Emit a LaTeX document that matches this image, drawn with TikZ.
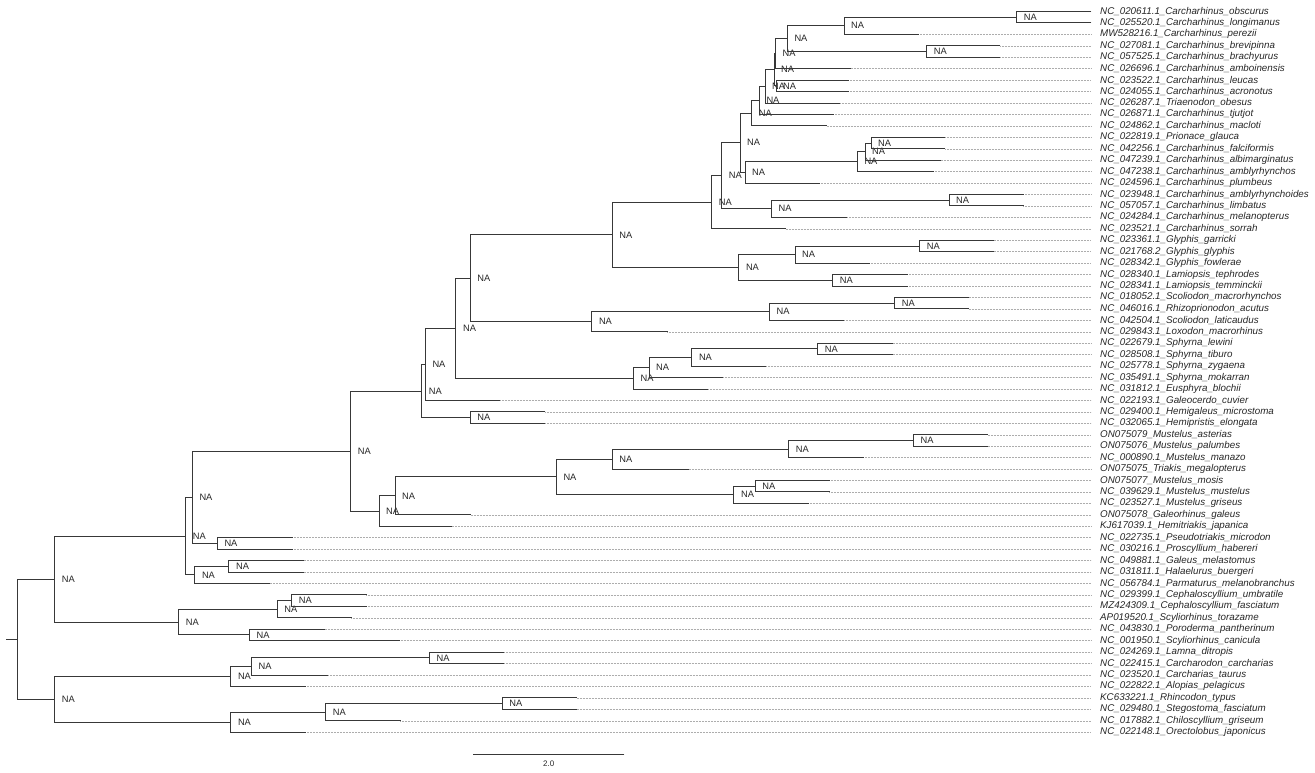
\documentclass[tikz,border=0pt]{standalone}
\usepackage{fontspec}
\setmainfont{Liberation Sans}
\begin{document}
\begin{tikzpicture}[x=1pt, y=-11.44pt,
  edge/.style={draw=black!78, line width=0.9pt, line cap=rect},
  dotline/.style={draw=black!32, line width=0.45pt, dash pattern=on 0.6pt off 0.9pt},
  nalab/.style={anchor=west, inner sep=0pt, xshift=7pt, text=black!85, font=\fontsize{9.3}{10}\selectfont},
  tiplab/.style={anchor=west, inner sep=0pt, inner xsep=9pt, text=black!85, font=\fontsize{9.8}{10}\selectfont\itshape},
  barlab/.style={inner sep=0pt, text=black!85, font=\fontsize{8}{9}\selectfont}]
\path[use as bounding box] (0pt,0pt) rectangle (1315pt,-772pt);
% tips
\foreach \i/\x/\lab in {
1/1091/{NC\_020611.1\_Carcharhinus\_obscurus},
2/1091/{NC\_025520.1\_Carcharhinus\_longimanus},
3/918.3/{MW528216.1\_Carcharhinus\_perezii},
4/1000/{NC\_027081.1\_Carcharhinus\_brevipinna},
5/1000/{NC\_057525.1\_Carcharhinus\_brachyurus},
6/850.7/{NC\_026696.1\_Carcharhinus\_amboinensis},
7/848.3/{NC\_023522.1\_Carcharhinus\_leucas},
8/848.3/{NC\_024055.1\_Carcharhinus\_acronotus},
9/840/{NC\_026287.1\_Triaenodon\_obesus},
10/833.3/{NC\_026871.1\_Carcharhinus\_tjutjot},
11/826.7/{NC\_024862.1\_Carcharhinus\_macloti},
12/945/{NC\_022819.1\_Prionace\_glauca},
13/945/{NC\_042256.1\_Carcharhinus\_falciformis},
14/940.7/{NC\_047239.1\_Carcharhinus\_albimarginatus},
15/933.3/{NC\_047238.1\_Carcharhinus\_amblyrhynchos},
16/819.3/{NC\_024596.1\_Carcharhinus\_plumbeus},
17/1023.3/{NC\_023948.1\_Carcharhinus\_amblyrhynchoides},
18/1023.3/{NC\_057057.1\_Carcharhinus\_limbatus},
19/847/{NC\_024284.1\_Carcharhinus\_melanopterus},
20/785.7/{NC\_023521.1\_Carcharhinus\_sorrah},
21/993.9/{NC\_023361.1\_Glyphis\_garricki},
22/993.9/{NC\_021768.2\_Glyphis\_glyphis},
23/869.4/{NC\_028342.1\_Glyphis\_fowlerae},
24/907.3/{NC\_028340.1\_Lamiopsis\_tephrodes},
25/907.3/{NC\_028341.1\_Lamiopsis\_temminckii},
26/968.6/{NC\_018052.1\_Scoliodon\_macrorhynchos},
27/968.6/{NC\_046016.1\_Rhizoprionodon\_acutus},
28/844/{NC\_042504.1\_Scoliodon\_laticaudus},
29/667.3/{NC\_029843.1\_Loxodon\_macrorhinus},
30/892.7/{NC\_022679.1\_Sphyrna\_lewini},
31/892.7/{NC\_028508.1\_Sphyrna\_tiburo},
32/766/{NC\_025778.1\_Sphyrna\_zygaena},
33/723/{NC\_035491.1\_Sphyrna\_mokarran},
34/708/{NC\_031812.1\_Eusphyra\_blochii},
35/500/{NC\_022193.1\_Galeocerdo\_cuvier},
36/545/{NC\_029400.1\_Hemigaleus\_microstoma},
37/545/{NC\_032065.1\_Hemipristis\_elongata},
38/987.8/{ON075079\_Mustelus\_asterias},
39/987.8/{ON075076\_Mustelus\_palumbes},
40/863.3/{NC\_000890.1\_Mustelus\_manazo},
41/688.6/{ON075075\_Triakis\_megalopterus},
42/829.4/{ON075077\_Mustelus\_mosis},
43/829.4/{NC\_039629.1\_Mustelus\_mustelus},
44/808.2/{NC\_023527.1\_Mustelus\_griseus},
45/470.6/{ON075078\_Galeorhinus\_galeus},
46/451.8/{KJ617039.1\_Hemitriakis\_japanica},
47/292.3/{NC\_022735.1\_Pseudotriakis\_microdon},
48/292.3/{NC\_030216.1\_Proscyllium\_habereri},
49/303.5/{NC\_049881.1\_Galeus\_melastomus},
50/303.5/{NC\_031811.1\_Halaelurus\_buergeri},
51/269.8/{NC\_056784.1\_Parmaturus\_melanobranchus},
52/366.2/{NC\_029399.1\_Cephaloscyllium\_umbratile},
53/366.2/{MZ424309.1\_Cephaloscyllium\_fasciatum},
54/351.3/{AP019520.1\_Scyliorhinus\_torazame},
55/324.5/{NC\_043830.1\_Poroderma\_pantherinum},
56/399.2/{NC\_001950.1\_Scyliorhinus\_canicula},
57/504/{NC\_024269.1\_Lamna\_ditropis},
58/504/{NC\_022415.1\_Carcharodon\_carcharias},
59/328/{NC\_023520.1\_Carcharias\_taurus},
60/305.4/{NC\_022822.1\_Alopias\_pelagicus},
61/576.7/{KC633221.1\_Rhincodon\_typus},
62/576.7/{NC\_029480.1\_Stegostoma\_fasciatum},
63/400.3/{NC\_017882.1\_Chiloscyllium\_griseum},
64/305.4/{NC\_022148.1\_Orectolobus\_japonicus}}{
  \coordinate (t\i) at (\x,\i);
  \node[tiplab] (l\i) at (1091,\i) {\lab};
}
% internal nodes
\foreach \n/\x/\y in {
P1/1016.7/1.5, P2/844/2.25, P3/926.7/4.5, P4/787.3/3.375, P5/775.5/4.6875,
Q/776/7.5, P6/774/6.09375, P7/765/7.546875, P8/759.3/8.7734, P9/751.7/9.8867,
Pr1/871/12.5, Pr2/865/13.25, Pr3/857.3/14.125, Pr4/745/15.0625, Y/740/12.4746,
Li1/949/17.5, Li2/771.4/18.25, X/721.7/15.3623, H/711.7/17.681,
Gl1/919.6/21.5, Gl2/795/22.25, La1/832.7/24.5, Gl3/738.8/23.375, F/612.2/20.528,
Sc1/894.7/26.5, Sc2/769.4/27.25, G/591.8/28.125, D/470.2/24.3265,
Sp1/817.6/30.5, Sp2/691.8/31.25, Sp3/649/32.125, E/633.5/33.0625,
C/455.9/28.6945, B/425.3/31.847, Hg/470.2/36.5, A/421.6/34.174,
Mu1/913.5/38.5, Mu2/788.6/39.25, Mu3/612.2/40.125, Mu4/755.1/42.5, Mu5/733.9/43.25,
M/556.3/41.6875, Tr1/395/43.34375, Tr2/379/44.671875, T/350.7/39.423,
Ps/217.3/47.5, S/192.3/43.4615, Ga2/228.9/49.5, Ga1/194.8/50.25, R/185.7/46.856,
Ce1/291.6/52.5, Ce2/277.1/53.25, Po/249.5/55.5, SC/178.7/54.375, Q0/54.7/50.6155,
Lm1/429.4/57.5, Lm2/251.4/58.25, N1/230.8/59.125,
Rh1/502.1/61.5, Rh2/325.7/62.25, O1/230.8/63.125, L0/54.7/61.125}{
  \coordinate (\n) at (\x,\y);
  \node[nalab] (na\n) at (\n) {NA};
}
\coordinate (root) at (17.2,55.87);
\coordinate (rootstub) at (6.9,55.87);
% dotted leaders
\foreach \i in {3,...,64} \draw[dotline] (t\i) -- (l\i.west);
% edges
\foreach \p/\c in {
P1/t1, P1/t2, P2/P1, P2/t3, P3/t4, P3/t5, P4/P2, P4/P3, P5/P4, P5/t6,
Q/t7, Q/t8, P6/P5, P6/Q, P7/P6, P7/t9, P8/P7, P8/t10, P9/P8, P9/t11,
Pr1/t12, Pr1/t13, Pr2/Pr1, Pr2/t14, Pr3/Pr2, Pr3/t15, Pr4/Pr3, Pr4/t16, Y/P9, Y/Pr4,
Li1/t17, Li1/t18, Li2/Li1, Li2/t19, X/Y, X/Li2, H/X, H/t20,
Gl1/t21, Gl1/t22, Gl2/Gl1, Gl2/t23, La1/t24, La1/t25, Gl3/Gl2, Gl3/La1, F/H, F/Gl3,
Sc1/t26, Sc1/t27, Sc2/Sc1, Sc2/t28, G/Sc2, G/t29, D/F, D/G,
Sp1/t30, Sp1/t31, Sp2/Sp1, Sp2/t32, Sp3/Sp2, Sp3/t33, E/Sp3, E/t34, C/D, C/E,
B/C, B/t35, Hg/t36, Hg/t37, A/B, A/Hg,
Mu1/t38, Mu1/t39, Mu2/Mu1, Mu2/t40, Mu3/Mu2, Mu3/t41, Mu4/t42, Mu4/t43, Mu5/Mu4, Mu5/t44,
M/Mu3, M/Mu5, Tr1/M, Tr1/t45, Tr2/Tr1, Tr2/t46, T/A, T/Tr2,
Ps/t47, Ps/t48, S/T, S/Ps, Ga2/t49, Ga2/t50, Ga1/Ga2, Ga1/t51, R/S, R/Ga1,
Ce1/t52, Ce1/t53, Ce2/Ce1, Ce2/t54, Po/t55, Po/t56, SC/Ce2, SC/Po, Q0/R, Q0/SC,
Lm1/t57, Lm1/t58, Lm2/Lm1, Lm2/t59, N1/Lm2, N1/t60, Rh1/t61, Rh1/t62, Rh2/Rh1, Rh2/t63,
O1/Rh2, O1/t64, L0/N1, L0/O1, root/Q0, root/L0}{
  \draw[edge] (\p) |- (\c);
}
\draw[edge] (rootstub) -- (root);
% scale bar
\coordinate (sb1) at (473.5pt,-754pt);
\coordinate (sb2) at (624pt,-754pt);
\draw[edge] (sb1) -- (sb2);
\node[barlab] (sblab) at (548.7pt,-763.5pt) {2.0};
\end{tikzpicture}
\end{document}
